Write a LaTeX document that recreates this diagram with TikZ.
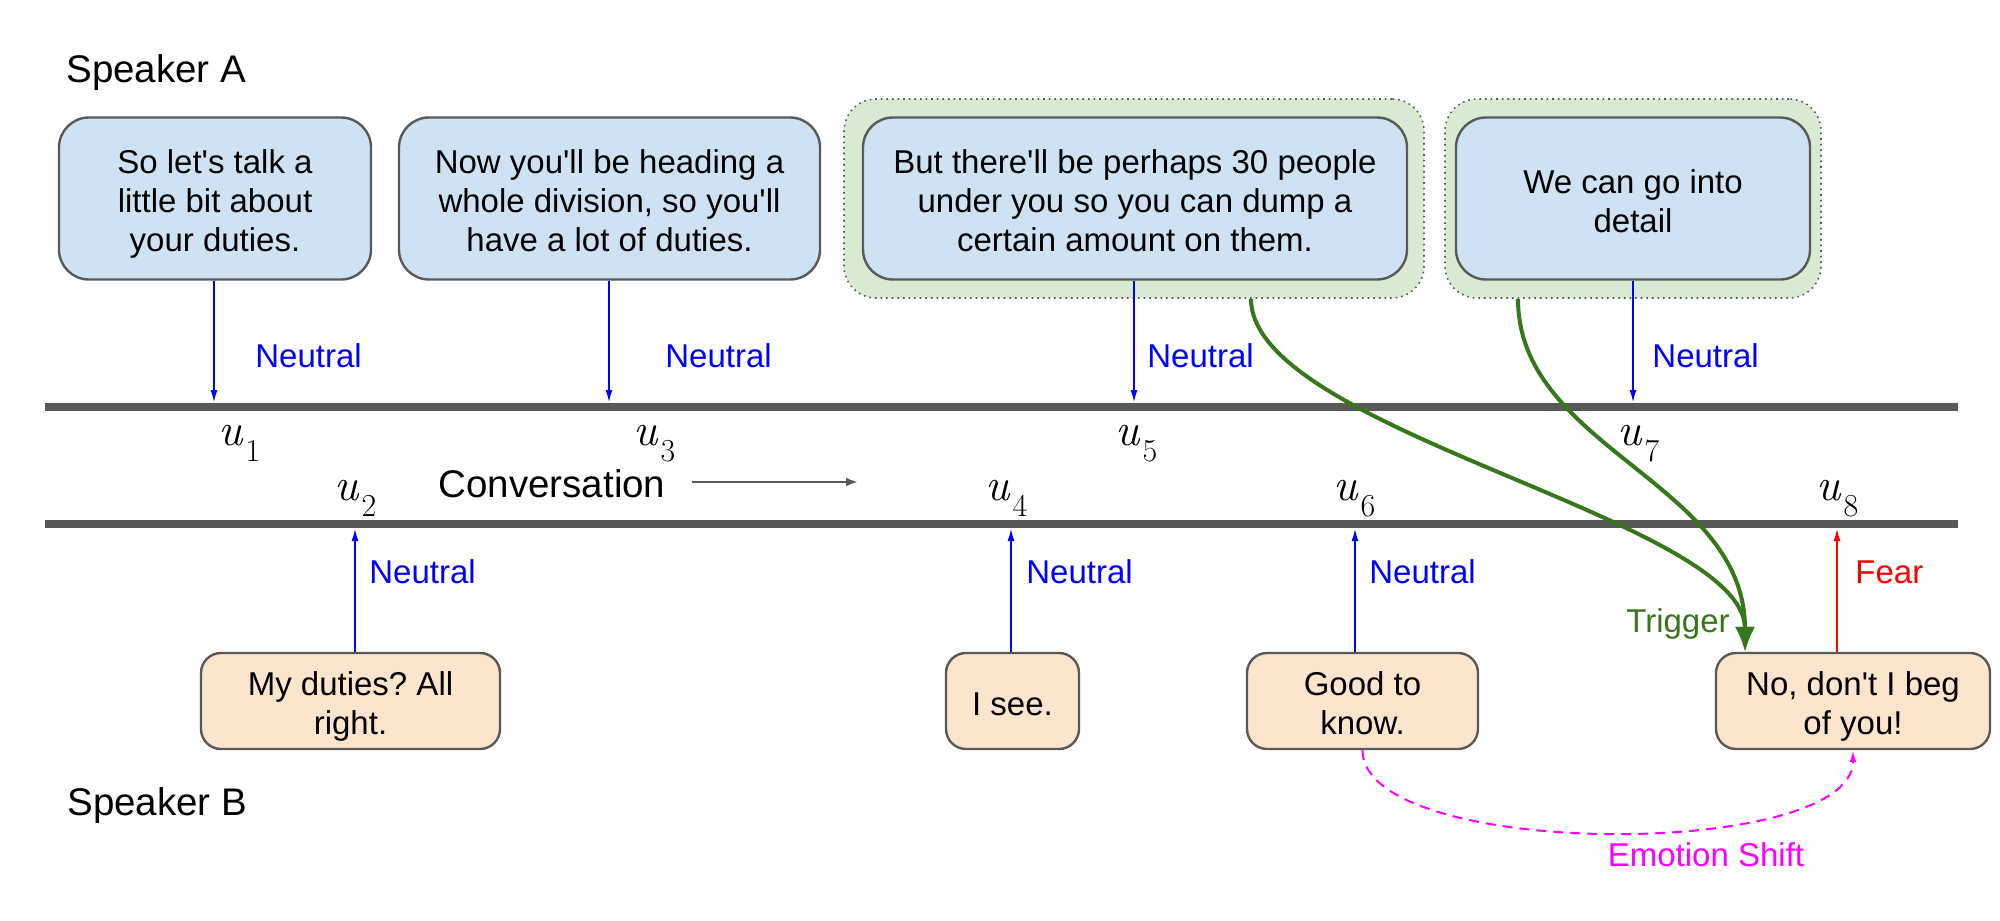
\documentclass[tikz,border=0pt]{standalone}
\usepackage{fontspec}
\setmainfont{Liberation Sans}[Ligatures=TeXOff]
\newfontfamily\ufont{Latin Modern Roman}
\usetikzlibrary{arrows.meta}
\frenchspacing

\definecolor{turnblue}{HTML}{CFE2F3}
\definecolor{turnorange}{HTML}{FCE5CD}
\definecolor{causegreen}{HTML}{D9EAD3}
\definecolor{edgegray}{HTML}{595959}
\definecolor{triggergreen}{HTML}{38761D}
\definecolor{shiftmagenta}{HTML}{FF00FF}

% utterance label u_i
\newcommand{\utter}[1]{{\ufont\itshape u}\kern1.5pt\raisebox{-8pt}{\ufont\fontsize{16}{16}\selectfont #1}}
% same vertical centring for every turn box
\newcommand{\firststrut}{\rule{0pt}{18pt}}
\newcommand{\laststrut}{\rule[-4pt]{0pt}{4pt}}

\begin{document}
\begin{tikzpicture}[x=0.5pt, y=-0.5pt,
    every node/.style={font=\fontsize{16.5}{19.5}\selectfont, inner sep=0pt},
    turnA/.style={draw=edgegray, line width=1.2pt, fill=turnblue, rounded corners=15pt,
        align=center, minimum height=81pt},
    turnB/.style={draw=edgegray, line width=1.2pt, fill=turnorange, rounded corners=10pt,
        align=center, minimum height=48pt},
    cause/.style={draw=edgegray, line width=0.8pt, dotted, fill=causegreen, rounded corners=16pt,
        minimum height=99.5pt},
    timeline/.style={edgegray, line width=4pt},
    emo/.style={blue, line width=1pt, -{Latex[length=6.5pt,width=3.5pt]}},
    ulabel/.style={anchor=base west, font=\fontsize{23}{27}\selectfont},
    tag/.style={anchor=base west, blue},
    speaker/.style={anchor=base west, font=\fontsize{19.25}{23}\selectfont}]
    \useasboundingbox (0,0) rectangle (2000,920);

    % Speakers
    \node[speaker] (spA) at (66,83) {Speaker A};
    \node[speaker] (spB) at (67,815) {Speaker B};

    % Trigger groups
    \node[cause, minimum width=290pt] (g5) at (1134,198.5) {};
    \node[cause, minimum width=188pt] (g7) at (1633,198.5) {};

    % Speaker A turns
    \node[turnA, minimum width=156pt] (b1) at (215,198.5) {\firststrut So let's talk a\\little bit about\\your duties.\laststrut};
    \node[turnA, minimum width=210.5pt] (b3) at (609.5,198.5) {\firststrut Now you'll be heading a\\whole division, so you'll\\have a lot of duties.\laststrut};
    \node[turnA, minimum width=272pt] (b5) at (1135,198.5) {\firststrut But there'll be perhaps 30 people\\under you so you can dump a\\certain amount on them.\laststrut};
    \node[turnA, minimum width=177pt] (b7) at (1633,198.5) {\firststrut We can go into\\detail\laststrut};

    % Speaker B turns
    \node[turnB, minimum width=149.5pt] (b2) at (350.5,701) {\firststrut My duties? All\\right.\laststrut};
    \node[turnB, minimum width=66.5pt] (b4) at (1012.5,701) {\firststrut I see.\laststrut};
    \node[turnB, minimum width=115.5pt] (b6) at (1362.5,701) {\firststrut Good to\\know.\laststrut};
    \node[turnB, minimum width=137pt] (b8) at (1853,701) {\firststrut No, don't I beg\\of you!\laststrut};

    % Time lines
    \coordinate (topL) at (45,407);
    \coordinate (topR) at (1958,407);
    \coordinate (botL) at (45,524);
    \coordinate (botR) at (1958,524);
    \draw[timeline] (topL) -- (topR);
    \draw[timeline] (botL) -- (botR);

    % Utterance labels
    \node[ulabel] (u1) at (218,445) {\utter{1}};
    \node[ulabel] (u3) at (633,445) {\utter{3}};
    \node[ulabel] (u5) at (1115,445) {\utter{5}};
    \node[ulabel] (u7) at (1617,445) {\utter{7}};
    \node[ulabel] (u2) at (334,500) {\utter{2}};
    \node[ulabel] (u4) at (985,500) {\utter{4}};
    \node[ulabel] (u6) at (1333,500) {\utter{6}};
    \node[ulabel] (u8) at (1816,500) {\utter{8}};

    % Conversation direction
    \node[speaker, anchor=base] (conv) at (552,497) {Conversation};
    \coordinate (convA) at (692,482);
    \coordinate (convB) at (858,482);
    \draw[edgegray, line width=1.3pt, -{Latex[length=6pt,width=4.5pt]}] (convA) -- (convB);

    % Emotion arrows
    \coordinate (e1) at (214,403);
    \coordinate (e3) at (609,403);
    \coordinate (e5) at (1134,403);
    \coordinate (e7) at (1633,403);
    \coordinate (e2) at (355,528);
    \coordinate (e4) at (1011,528);
    \coordinate (e6) at (1355,528);
    \coordinate (e8) at (1837,528);
    \draw[emo] (b1.south -| e1) -- (e1);
    \draw[emo] (b3.south -| e3) -- (e3);
    \draw[emo] (b5.south -| e5) -- (e5);
    \draw[emo] (b7.south -| e7) -- (e7);
    \draw[emo] (b2.north -| e2) -- (e2);
    \draw[emo] (b4.north -| e4) -- (e4);
    \draw[emo] (b6.north -| e6) -- (e6);
    \draw[emo, red] (b8.north -| e8) -- (e8);

    % Emotion tags
    \node[tag] (n1) at (255,367) {Neutral};
    \node[tag] (n3) at (665,367) {Neutral};
    \node[tag] (n5) at (1147,367) {Neutral};
    \node[tag] (n7) at (1652,367) {Neutral};
    \node[tag] (n2) at (369,583) {Neutral};
    \node[tag] (n4) at (1026,583) {Neutral};
    \node[tag] (n6) at (1369,583) {Neutral};
    \node[tag, red] (n8) at (1855,583) {Fear};

    % Triggers
    \draw[triggergreen, line width=2pt, -{Latex[length=12.5pt,width=10pt]}]
        ([xshift=58.5pt]g5.south) .. controls +(0,132) and +(0,-133) .. ([xshift=-54pt]b8.north);
    \draw[triggergreen, line width=2pt, -{Latex[length=12.5pt,width=10pt]}]
        ([xshift=-57.5pt]g7.south) .. controls +(0,150) and +(0,-170) .. ([xshift=-54pt]b8.north);
    \node[anchor=base, triggergreen] (trig) at (1678,632) {Trigger};

    % Emotion shift
    \draw[shiftmagenta, line width=1pt, dash pattern=on 5pt off 3.5pt, -{Latex[length=6pt,width=3.5pt]}]
        (b6.south) .. controls +(0,110) and +(0,110) .. (b8.south);
    \node[anchor=base, shiftmagenta] (shift) at (1706,866) {Emotion Shift};
  \end{tikzpicture}
\end{document}
